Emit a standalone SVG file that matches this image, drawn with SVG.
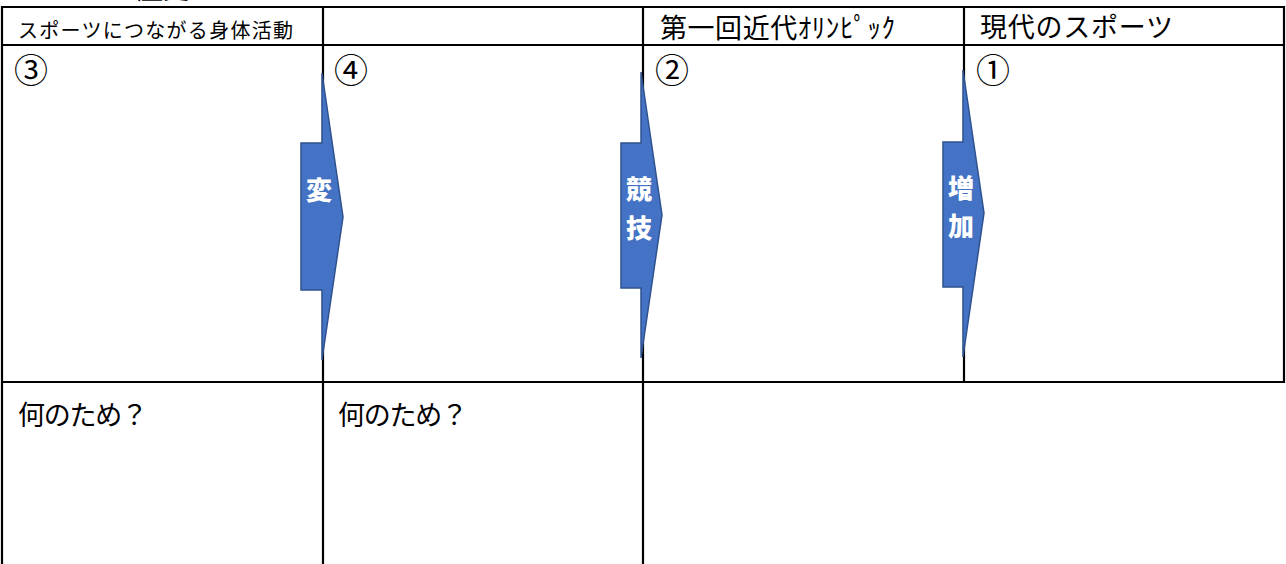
<svg xmlns="http://www.w3.org/2000/svg" width="1286" height="564" viewBox="0 0 1286 564">
<style>
.t{font-family:"Noto Sans CJK JP","Noto Sans CJK SC",sans-serif;fill:#000;}
.h{font-size:27px;}
.s{font-size:20px;}
.n{font-size:34px;}
.arrow{fill:#4472C4;stroke:#2F528F;stroke-width:1.5;stroke-linejoin:miter;}
.at{font-family:"Noto Sans CJK JP","Noto Sans CJK SC",sans-serif;font-weight:900;font-size:26px;fill:#fff;text-anchor:middle;}
.grid{stroke:#000;stroke-width:2.2;fill:none;}
</style>
<rect width="1286" height="564" fill="#fff"/>
<text class="t" x="9" y="-1" font-size="26" textLength="180" lengthAdjust="spacing">スポーツの歴史</text>
<g id="grid" class="grid">
<line x1="1" y1="7" x2="1285" y2="7"/>
<line x1="1" y1="45" x2="1285" y2="45"/>
<line x1="1" y1="382" x2="1285" y2="382"/>
<line x1="2" y1="6" x2="2" y2="564"/>
<line x1="323" y1="6" x2="323" y2="564"/>
<line x1="643" y1="6" x2="643" y2="564"/>
<line x1="964" y1="6" x2="964" y2="383"/>
<line x1="1284" y1="6" x2="1284" y2="383"/>
</g>
<g id="cell-h1"><text class="t s" x="18" y="38" textLength="275" lengthAdjust="spacing">スポーツにつながる身体活動</text></g>
<g id="cell-h3"><text class="t h" x="660" y="38" textLength="235" lengthAdjust="spacing">第一回近代ｵﾘﾝﾋﾟｯｸ</text></g>
<g id="cell-h4"><text class="t h" x="980" y="37" textLength="193" lengthAdjust="spacing">現代のスポーツ</text></g>
<g id="cell-3"><text class="t n" x="14" y="83">③</text></g>
<g id="cell-4"><text class="t n" x="334" y="83">④</text></g>
<g id="cell-2"><text class="t n" x="655" y="83">②</text></g>
<g id="cell-1"><text class="t n" x="976" y="83">①</text></g>
<g id="cell-q1"><text class="t h" x="18" y="425" textLength="130" lengthAdjust="spacing">何のため？</text></g>
<g id="cell-q2"><text class="t h" x="338" y="425" textLength="130" lengthAdjust="spacing">何のため？</text></g>
<g id="connectors">
<g id="arrow-1">
<polygon class="arrow" points="322,73 343,217 322,360 322,290 301,290 301,143 322,143"/>
<text class="at" x="319" y="200">変</text>
</g>
<g id="arrow-2">
<polygon class="arrow" points="641,72 662,215 641,358 641,288 621,288 621,143 641,143"/>
<text class="at" x="639" y="199">競</text>
<text class="at" x="639" y="238">技</text>
</g>
<g id="arrow-3">
<polygon class="arrow" points="963,70 984,213 963,357 963,287 943,287 943,142 963,142"/>
<text class="at" x="961" y="198">増</text>
<text class="at" x="961" y="236">加</text>
</g>
</g>
</svg>
